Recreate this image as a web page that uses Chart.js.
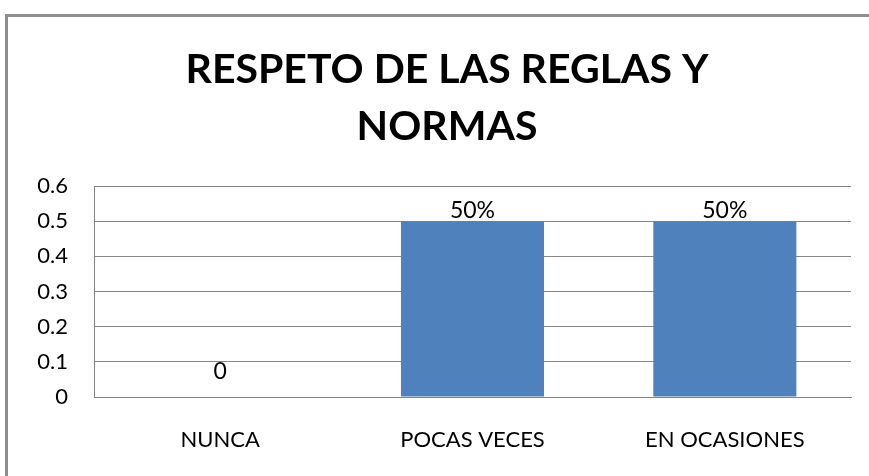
<!DOCTYPE html>
<html>
<head>
<meta charset="utf-8">
<script src="https://cdn.jsdelivr.net/npm/chart.js@4/dist/chart.umd.min.js"></script>
<style>
  html, body { margin: 0; padding: 0; background: #ffffff; }
  #wrap { position: relative; width: 869px; height: 476px; }
</style>
</head>
<body>
<div id="wrap"><canvas id="c" width="869" height="476"></canvas></div>
<script>
const chartTitle = ["RESPETO DE LAS REGLAS Y", "NORMAS"];
const categories = ["NUNCA", "POCAS VECES", "EN OCASIONES"];
const values = [0, 0.5, 0.5];
const dataLabels = ["0", "50%", "50%"];
const yTicks = [0, 0.1, 0.2, 0.3, 0.4, 0.5, 0.6];

const FONT = "Lato, 'Liberation Sans', sans-serif";

const frame = {
  id: 'frame',
  beforeDraw(chart) {
    const ctx = chart.ctx;
    ctx.save();
    ctx.fillStyle = '#ffffff';
    ctx.fillRect(0, 0, chart.width, chart.height);
    ctx.strokeStyle = '#8e8e8e';
    ctx.lineWidth = 3;
    ctx.beginPath();
    ctx.moveTo(6.5, chart.height + 5);
    ctx.lineTo(6.5, 15.5);
    ctx.lineTo(chart.width + 5, 15.5);
    ctx.stroke();
    ctx.restore();
  },
  afterDraw(chart) {
    const ctx = chart.ctx;
    ctx.save();
    ctx.font = "bold 41px " + FONT;
    ctx.fillStyle = '#000000';
    ctx.textAlign = 'center';
    ctx.textBaseline = 'alphabetic';
    const baselines = [83, 140];
    chartTitle.forEach((line, i) => ctx.fillText(line, 447, baselines[i]));
    ctx.restore();
  }
};

const barLabels = {
  id: 'barLabels',
  afterDatasetsDraw(chart) {
    const ctx = chart.ctx;
    const meta = chart.getDatasetMeta(0);
    ctx.save();
    ctx.font = "23px " + FONT;
    ctx.fillStyle = '#000000';
    ctx.textAlign = 'center';
    ctx.textBaseline = 'bottom';
    meta.data.forEach((bar, i) => {
      const v = values[i];
      const extra = v === 0 ? 15 : 0;
      ctx.fillText(dataLabels[i], bar.x, bar.y + 1 - extra);
    });
    ctx.restore();
  }
};

new Chart(document.getElementById('c'), {
  type: 'bar',
  data: {
    labels: categories,
    datasets: [{
      data: values,
      backgroundColor: '#4f81bd',
      borderWidth: 0,
      categoryPercentage: 1,
      barPercentage: 0.567
    }]
  },
  options: {
    responsive: false,
    animation: false,
    devicePixelRatio: 1,
    layout: { padding: { left: 0, right: 18, top: 186, bottom: 0 } },
    plugins: {
      legend: { display: false },
      tooltip: { enabled: false },
      title: { display: false }
    },
    scales: {
      x: {
        grid: { display: false, drawTicks: false },
        border: { display: true, color: '#868686', width: 1 },
        ticks: { color: '#000000', font: { family: FONT, size: 22 }, padding: 30, maxRotation: 0 },
        afterFit(scale) { scale.height = 79; }
      },
      y: {
        min: 0,
        max: 0.6,
        afterBuildTicks(scale) { scale.ticks = yTicks.map(v => ({ value: v })); },
        grid: { color: '#868686', lineWidth: 1, drawTicks: false },
        border: { display: true, color: '#868686', width: 1 },
        ticks: {
          color: '#000000',
          font: { family: FONT, size: 22 },
          padding: 26,
          callback: (v) => String(v)
        },
        afterFit(scale) { scale.width = 94; }
      }
    }
  },
  plugins: [frame, barLabels]
});
</script>
</body>
</html>
